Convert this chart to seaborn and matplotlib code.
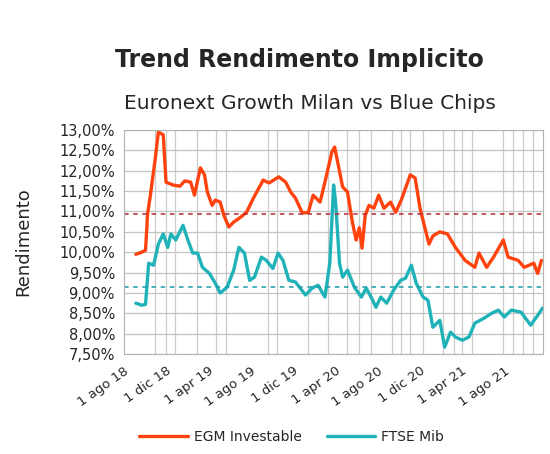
import seaborn as sns
import matplotlib.pyplot as plt
import matplotlib.transforms as mtransforms
import pandas as pd
from matplotlib.ticker import FuncFormatter, MultipleLocator

sns.set_style("whitegrid")
plt.rcParams['font.family'] = ['DejaVu Sans']

# EGM Investable (orange)
egm_dates = [
    '2018-09-04', '2018-09-21', '2018-10-02', '2018-10-08', '2018-10-16', '2018-10-30',
    '2018-11-08', '2018-11-22', '2018-11-30', '2018-12-20', '2019-01-09', '2019-01-23',
    '2019-02-09', '2019-02-20', '2019-03-09', '2019-03-21', '2019-03-29', '2019-04-12',
    '2019-04-21', '2019-05-05', '2019-05-16', '2019-05-30', '2019-06-13', '2019-06-30',
    '2019-07-20', '2019-08-09', '2019-09-06', '2019-09-23', '2019-10-21', '2019-11-10',
    '2019-11-24', '2019-12-08', '2019-12-28', '2020-01-14', '2020-01-28', '2020-02-17',
    '2020-03-02', '2020-03-22', '2020-03-30', '2020-04-08', '2020-04-22', '2020-05-06',
    '2020-05-20', '2020-05-31', '2020-06-09', '2020-06-17', '2020-06-26', '2020-07-07',
    '2020-07-21', '2020-08-04', '2020-08-19', '2020-09-07', '2020-09-22', '2020-10-08',
    '2020-11-03', '2020-11-17', '2020-12-01', '2020-12-15', '2020-12-27', '2021-01-07',
    '2021-01-27', '2021-02-18', '2021-03-13', '2021-04-10', '2021-05-08', '2021-05-20',
    '2021-06-11', '2021-07-01', '2021-07-29', '2021-08-12', '2021-09-10', '2021-09-27',
    '2021-10-25', '2021-11-05', '2021-11-16',
]
egm_values = [
    9.95, 10.00, 10.05, 10.95, 11.40, 12.30,
    12.95, 12.88, 11.72, 11.65, 11.62, 11.75,
    11.72, 11.40, 12.07, 11.90, 11.48, 11.15,
    11.28, 11.23, 10.90, 10.62, 10.74, 10.84,
    10.98, 11.33, 11.77, 11.70, 11.85, 11.72,
    11.48, 11.33, 10.96, 10.98, 11.40, 11.23,
    11.72, 12.46, 12.58, 12.20, 11.60, 11.48,
    10.74, 10.30, 10.60, 10.10, 10.90, 11.15,
    11.08, 11.40, 11.08, 11.23, 10.98, 11.28,
    11.90, 11.82, 11.08, 10.60, 10.20, 10.40,
    10.50, 10.45, 10.12, 9.80, 9.63, 9.98,
    9.63, 9.88, 10.30, 9.88, 9.80, 9.63,
    9.73, 9.48, 9.80,
]

# FTSE Mib (teal)
ftse_dates = [
    '2018-09-04', '2018-09-21', '2018-10-02', '2018-10-11', '2018-10-25', '2018-11-08',
    '2018-11-22', '2018-12-05', '2018-12-14', '2018-12-28', '2019-01-18', '2019-02-01',
    '2019-02-15', '2019-03-01', '2019-03-15', '2019-04-04', '2019-04-21', '2019-05-05',
    '2019-05-25', '2019-06-13', '2019-06-28', '2019-07-14', '2019-07-29', '2019-08-12',
    '2019-09-01', '2019-09-15', '2019-10-04', '2019-10-19', '2019-11-02', '2019-11-19',
    '2019-12-08', '2020-01-06', '2020-01-25', '2020-02-11', '2020-03-02', '2020-03-16',
    '2020-03-27', '2020-04-02', '2020-04-13', '2020-04-22', '2020-05-06', '2020-05-26',
    '2020-06-15', '2020-06-29', '2020-07-13', '2020-07-27', '2020-08-10', '2020-08-27',
    '2020-09-16', '2020-10-06', '2020-10-20', '2020-11-06', '2020-11-20', '2020-12-10',
    '2020-12-24', '2021-01-07', '2021-01-27', '2021-02-10', '2021-02-27', '2021-03-13',
    '2021-04-02', '2021-04-21', '2021-05-08', '2021-06-03', '2021-06-25', '2021-07-15',
    '2021-08-01', '2021-08-21', '2021-09-18', '2021-10-16', '2021-11-05', '2021-11-19',
]
ftse_values = [
    8.75, 8.70, 8.72, 9.73, 9.68, 10.20,
    10.45, 10.12, 10.45, 10.30, 10.66, 10.30,
    9.98, 9.98, 9.63, 9.48, 9.24, 9.00,
    9.14, 9.56, 10.12, 9.98, 9.31, 9.39,
    9.88, 9.80, 9.60, 9.98, 9.80, 9.31,
    9.27, 8.95, 9.12, 9.19, 8.90, 9.73,
    11.65, 11.20, 9.73, 9.39, 9.56, 9.14,
    8.90, 9.12, 8.90, 8.65, 8.90, 8.75,
    9.07, 9.31, 9.36, 9.68, 9.24, 8.90,
    8.82, 8.16, 8.33, 7.67, 8.04, 7.92,
    7.84, 7.92, 8.26, 8.38, 8.50, 8.58,
    8.41, 8.58, 8.53, 8.21, 8.45, 8.63,
]

egm_avg = 10.93
ftse_avg = 9.14

tick_dates = ['2018-08-01', '2018-12-01', '2019-04-01', '2019-08-01', '2019-12-01',
              '2020-04-01', '2020-08-01', '2020-12-01', '2021-04-01', '2021-08-01']
tick_labels = ['1 ago 18', '1 dic 18', '1 apr 19', '1 ago 19', '1 dic 19',
               '1 apr 20', '1 ago 20', '1 dic 20', '1 apr 21', '1 ago 21']

# irregular vertical grid of the original chart
grid_dates = ['2018-10-30', '2018-11-30', '2018-12-26', '2019-02-26', '2019-04-24',
              '2019-05-22', '2019-09-20', '2019-10-16', '2020-01-14', '2020-03-11',
              '2020-05-06', '2020-06-09', '2020-07-13', '2020-09-10', '2020-10-08',
              '2020-11-03', '2020-12-10', '2021-02-04', '2021-03-10', '2021-04-02',
              '2021-04-30', '2021-07-29', '2021-08-27', '2021-09-24', '2021-10-22']

df = pd.concat([
    pd.DataFrame({'Data': pd.to_datetime(egm_dates), 'Rendimento': egm_values,
                  'Indice': 'EGM Investable'}),
    pd.DataFrame({'Data': pd.to_datetime(ftse_dates), 'Rendimento': ftse_values,
                  'Indice': 'FTSE Mib'}),
])

colors = {'EGM Investable': '#FF420E', 'FTSE Mib': '#1FB2B8'}

fig = plt.figure(figsize=(5.5, 4.54), dpi=100)
ax = fig.add_axes([0.2255, 0.22, 0.7615, 0.4937])

sns.lineplot(data=df, x='Data', y='Rendimento', hue='Indice', palette=colors,
             linewidth=2.4, ax=ax)

ax.axhline(egm_avg, color='#B8283A', linestyle=(0, (3, 3)), linewidth=1.1)
ax.axhline(ftse_avg, color='#1A9EA6', linestyle=(0, (3, 3)), linewidth=1.1)

ax.set_xlim(pd.Timestamp('2018-08-26'), pd.Timestamp('2021-11-20'))
ax.set_ylim(7.5, 13.0)
ax.yaxis.set_major_locator(MultipleLocator(0.5))
ax.yaxis.set_major_formatter(FuncFormatter(lambda v, p: f"{v:.2f}".replace('.', ',') + '%'))

ax.set_xticks(pd.to_datetime(tick_dates))
ax.set_xticklabels(tick_labels, rotation=35, ha='right', rotation_mode='anchor', fontsize=9.5)
shift = mtransforms.ScaledTranslation(-6 / 100, 0, fig.dpi_scale_trans)
for lab in ax.get_xticklabels():
    lab.set_transform(lab.get_transform() + shift)
ax.set_xticks(pd.to_datetime(grid_dates), minor=True)
ax.grid(False, axis='x', which='major')
ax.grid(True, axis='x', which='minor', color='#cccccc', linewidth=0.9)
ax.grid(True, axis='y', color='#c4c4c4', linewidth=0.9)
ax.tick_params(axis='y', labelsize=10.5, pad=3)
ax.tick_params(axis='x', pad=4)
for s in ax.spines.values():
    s.set_color('#b3b3b3')

ax.set_xlabel('')
ax.set_ylabel('Rendimento', fontsize=13)
ax.yaxis.set_label_coords(-0.22, 0.5)

ax.legend(loc='center', bbox_to_anchor=(0.53, 0.037), bbox_transform=fig.transFigure,
          ncol=2, frameon=False, fontsize=10, handlelength=3.5, handletextpad=0.4,
          columnspacing=1.8)

fig.text(0.545, 0.868, 'Trend Rendimento Implicito', ha='center', va='center',
         fontsize=17, fontweight='bold')
fig.text(0.564, 0.773, 'Euronext Growth Milan vs Blue Chips', ha='center', va='center',
         fontsize=14.5)

plt.savefig('out.png', dpi=100)
